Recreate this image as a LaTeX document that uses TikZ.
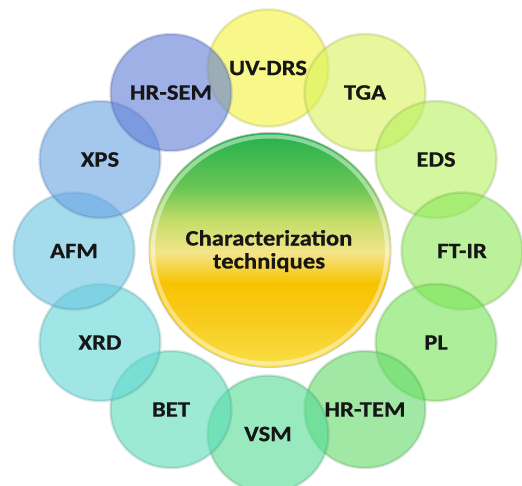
\documentclass[tikz,border=0pt]{standalone}
\usepackage{fontspec}
\setmainfont{Carlito}
\newfontfamily\techfont{Carlito}[FakeStretch=1.12, FakeBold=0.6]
\usetikzlibrary{shapes.geometric}

% ring colours (before transparency)
\definecolor{coluv}{RGB}{242,242,60}
\definecolor{coltga}{RGB}{218,242,90}
\definecolor{coleds}{RGB}{184,240,95}
\definecolor{colftir}{RGB}{140,232,88}
\definecolor{colpl}{RGB}{118,228,88}
\definecolor{coltem}{RGB}{98,218,104}
\definecolor{colvsm}{RGB}{84,220,148}
\definecolor{colbet}{RGB}{90,220,182}
\definecolor{colxrd}{RGB}{98,214,214}
\definecolor{colafm}{RGB}{106,198,226}
\definecolor{colxps}{RGB}{104,162,228}
\definecolor{colsem}{RGB}{96,124,216}
\definecolor{labelink}{RGB}{22,22,22}

% centre disc gradient, bottom to top
\definecolor{cz0}{RGB}{249,224,70}
\definecolor{cz1}{RGB}{248,204,32}
\definecolor{cz2}{RGB}{248,196,0}
\definecolor{cz3}{RGB}{243,229,138}
\definecolor{cz4}{RGB}{198,221,106}
\definecolor{cz5}{RGB}{108,198,85}
\definecolor{cz6}{RGB}{34,177,76}
\pgfdeclareverticalshading{coreshade}{100bp}{color(0bp)=(cz0); color(25bp)=(cz0); color(34.5bp)=(cz1); color(43bp)=(cz2); color(49.5bp)=(cz3); color(56bp)=(cz4); color(63bp)=(cz5); color(75bp)=(cz6); color(100bp)=(cz6)}

\tikzset{
  techring/.style={ellipse, minimum width=121bp, minimum height=117bp, inner sep=0pt,
    fill opacity=.6, draw opacity=.2, line width=2.5bp},
  techlabel/.style={text=labelink, inner sep=0pt,
    font=\techfont\bfseries\fontsize{22bp}{23bp}\selectfont},
  coredisc/.style={ellipse, minimum width=242bp, minimum height=235bp, inner sep=0pt,
    shading=coreshade, draw=black!20, line width=.8bp},
}

\begin{document}
\begin{tikzpicture}[x=1bp, y=-1bp]
  \fill[white] (0,0) rectangle (522,486);
  \useasboundingbox (0,0) rectangle (522,486);

  % central disc with a pale rim
  \node[coredisc] (core) at (270,250) {};
  \draw[white, opacity=.45, line width=4bp] (core.center) ellipse [x radius=117, y radius=113.5];
  \node[techlabel, align=center] (coretext) at (269,251) {Characterization\\techniques};

  % twelve translucent discs on an ellipse round the centre
  \foreach \key/\ang in {uv/90, tga/60, eds/30, ftir/0, pl/-30, tem/-60,
                         vsm/-90, bet/-120, xrd/-150, afm/180, xps/150, sem/120} {
    \node[techring, fill=col\key, draw=col\key!60!black]
      (ring\key) at ({268+194*cos(\ang)},{251-183*sin(\ang)}) {};
  }

  % technique names
  \foreach \key/\txt in {uv/UV-DRS, tga/TGA, eds/EDS, ftir/FT-IR, pl/PL, tem/HR-TEM,
                         vsm/VSM, bet/BET, xrd/XRD, afm/AFM, xps/XPS, sem/HR-SEM} {
    \node[techlabel] (label\key) at (ring\key) {\txt};
  }
\end{tikzpicture}
\end{document}
